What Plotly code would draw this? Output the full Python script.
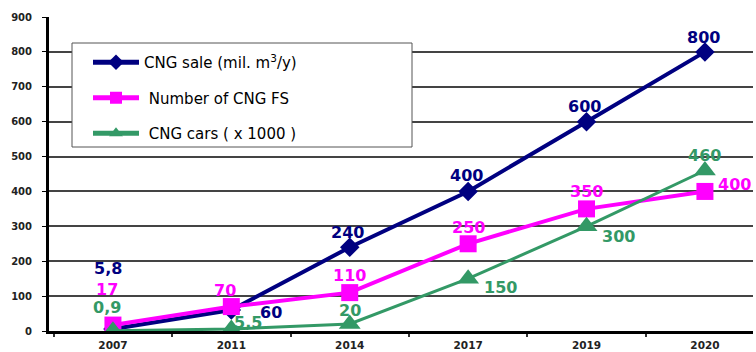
import plotly.graph_objects as go

# Years on the horizontal axis
years = ["2007", "2011", "2014", "2017", "2019", "2020"]

# Series values
cng_sale = [5.8, 60, 240, 400, 600, 800]        # mil. m3 per year
cng_stations = [17, 70, 110, 250, 350, 400]     # number of filling stations
cng_cars = [0.9, 5.5, 20, 150, 300, 460]        # thousands of cars

y_ticks = [0, 100, 200, 300, 400, 500, 600, 700, 800, 900]

NAVY = "#000080"
MAGENTA = "#ff00ff"
GREEN = "#339966"

xpos = list(range(len(years)))

# plot area in pixels (used to place the legend frame)
L, R, T, B = 49, 3, 17, 21
W, H = 756, 352
PW, PH = W - L - R, H - T - B


def fmt(v):
    s = f"{v:g}"
    return s.replace(".", ",")


def px_x(p):
    return (p - L) / PW


def px_y(p):
    return 1 - (p - T) / PH


fig = go.Figure()

series = [
    ("CNG sale (mil. m<sup>3</sup>/y)", cng_sale, NAVY, "diamond", 15, 4),
    ("\u00a0Number of CNG FS", cng_stations, MAGENTA, "square", 17, 4),
    ("\u00a0CNG cars ( x 1000 )", cng_cars, GREEN, "triangle-up", 19, 3),
]

for i, (name, vals, color, symbol, msize, lw) in enumerate(series):
    fig.add_trace(go.Scatter(
        x=xpos, y=vals, name=name, mode="lines+markers",
        line=dict(color=color, width=lw),
        marker=dict(color=color, symbol=symbol, size=msize, line=dict(width=0)),
        legendgroup=f"g{i}",
        hoverinfo="skip",
    ))

# pixel offsets (right, up) of each value label from its point
label_offsets = [
    [(-5, 60), (40, -2), (-2, 15), (-2, 16), (-2, 15), (-1, 14)],
    [(-6, 36), (-6, 16), (0, 17), (0, 16), (0, 17), (30, 7)],
    [(-6, 23), (17, 7), (0, 14), (32, -9), (32, -10), (0, 15)],
]

for (name, vals, color, *_), offs in zip(series, label_offsets):
    for x, v, (dx, dy) in zip(xpos, vals, offs):
        fig.add_annotation(
            x=x, y=v, text=fmt(v), showarrow=False,
            xshift=dx, yshift=dy,
            font=dict(family="DejaVu Sans", size=16, color=color, weight="bold"),
        )

# white legend frame covering the grid
fig.add_shape(
    type="rect", xref="paper", yref="paper",
    x0=px_x(72), x1=px_x(412), y0=px_y(147), y1=px_y(43),
    fillcolor="white", line=dict(color="#555555", width=1), layer="above",
)

fig.update_layout(
    width=W, height=H,
    margin=dict(l=L, r=R, t=T, b=B),
    paper_bgcolor="white", plot_bgcolor="white",
    showlegend=True,
    legend=dict(
        x=px_x(88), y=px_y(46), xanchor="left", yanchor="top",
        bgcolor="rgba(0,0,0,0)", borderwidth=0,
        font=dict(family="DejaVu Sans", size=15, color="black"),
        itemwidth=46, tracegroupgap=13, itemsizing="constant",
    ),
    xaxis=dict(
        range=[-0.54, 5.406],
        tickmode="array", tickvals=xpos, ticktext=years,
        showgrid=False, zeroline=False,
        showline=True, linecolor="black", linewidth=3,
        ticks="", ticklabelstandoff=2, automargin=False,
        minor=dict(tickmode="linear", tick0=0.5, dtick=1, ticks="outside",
                   ticklen=3, tickwidth=2, tickcolor="#333"),
        tickfont=dict(family="DejaVu Sans", size=10.5, color="#222", weight="bold"),
        fixedrange=True,
    ),
    yaxis=dict(
        range=[0, 900],
        tickmode="array", tickvals=y_ticks,
        showgrid=True, gridcolor="#444444", gridwidth=2,
        zeroline=False,
        showline=True, linecolor="black", linewidth=3,
        ticks="outside", ticklen=4, tickcolor="black", tickwidth=1,
        ticklabelstandoff=8, automargin=False,
        tickfont=dict(family="DejaVu Sans", size=10, color="#222", weight="bold"),
        fixedrange=True,
    ),
)

fig.write_html("out.html")
